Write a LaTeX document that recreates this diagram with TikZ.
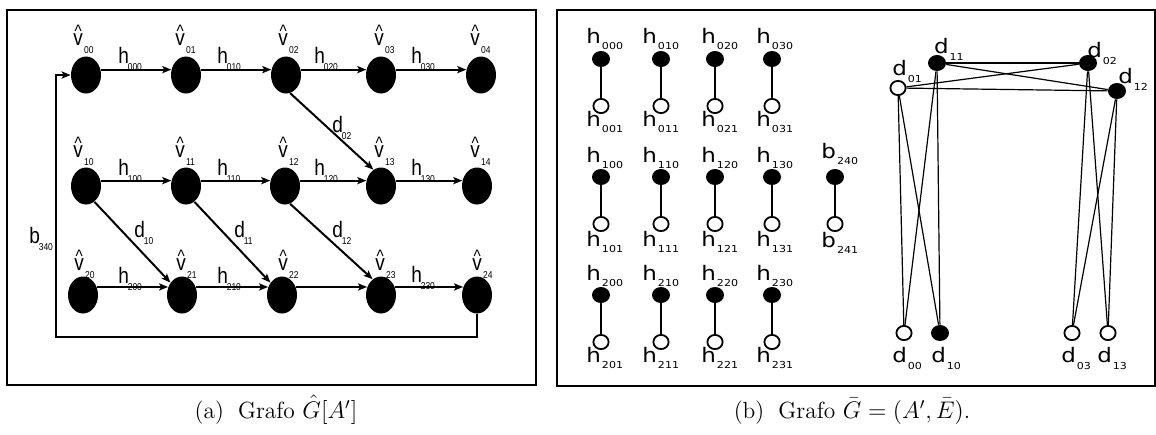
\documentclass[tikz,border=0pt]{standalone}
\usepackage{fontspec}
\usetikzlibrary{shapes.geometric,arrows.meta}
\newfontfamily\lsf[FakeStretch=0.85]{Liberation Sans}
\newfontfamily\dsf[FakeStretch=1.15]{DejaVu Sans}
\newcommand\Lb[2]{{\lsf\fontsize{11.2}{12}\selectfont #1\kern-0.6pt\raisebox{-3.5pt}{\fontsize{5}{5}\selectfont #2}}}
\newcommand\Lv[1]{{\lsf\fontsize{11.2}{12}\selectfont\rlap{\kern0.6pt\raisebox{4pt}{\fontsize{9}{9}\selectfont\textasciicircum}}v\kern0.6pt\raisebox{-4pt}{\fontsize{5}{5}\selectfont #1}}}
\newcommand\Rb[2]{{\dsf\fontsize{10}{12}\selectfont #1\kern0.5pt\raisebox{-3.2pt}{\fontsize{4.8}{5}\selectfont #2}}}
\newcommand\Rd[2]{{\dsf\fontsize{10}{12}\selectfont #1\kern0.4pt\raisebox{-3.5pt}{\fontsize{4.8}{5}\selectfont #2}}}
\tikzset{
 vnode/.style={ellipse, fill=black, minimum width=15pt, minimum height=18.5pt, inner sep=0pt},
 harr/.style={line width=1pt, -{Stealth[length=4.5pt,width=3.6pt,inset=1pt]}},
 lab/.style={inner sep=0pt, anchor=base west},
 fnode/.style={ellipse, fill=black, minimum width=9pt, minimum height=8pt, inner sep=0pt},
 onode/.style={ellipse, draw=black, fill=white, line width=0.9pt, minimum width=7.6pt, minimum height=7.1pt, inner sep=0pt},
 hline/.style={line width=0.8pt},
 dedge/.style={line width=0.6pt},
 frame/.style={line width=1.3pt},
 capt/.style={inner sep=0pt, anchor=base, font=\fontsize{11.7}{13}\selectfont},
}
\begin{document}
\begin{tikzpicture}[x=0.5pt,y=-0.5pt]
\useasboundingbox (0,0) rectangle (1156,434);
% frames
\draw[frame] (7,10) rectangle (536,385);
\draw[frame] (557,10) rectangle (1155,386);
% ---------- left graph ----------
\node[vnode] (v00) at (86,75) {};
\node[vnode] (v01) at (186,75) {};
\node[vnode] (v02) at (286,75) {};
\node[vnode] (v03) at (381,75) {};
\node[vnode] (v04) at (481,75) {};
\node[vnode] (v10) at (86,186) {};
\node[vnode] (v11) at (186,186) {};
\node[vnode] (v12) at (285,186) {};
\node[vnode] (v13) at (381,186) {};
\node[vnode] (v14) at (477,186) {};
\node[vnode] (v20) at (83,295) {};
\node[vnode] (v21) at (182,295) {};
\node[vnode] (v22) at (282,295) {};
\node[vnode] (v23) at (381,295) {};
\node[vnode] (v24) at (477,295) {};
% horizontal arrows
\draw[harr] (v00.20) -- (v01.160);
\draw[harr] (v01.20) -- (v02.160);
\draw[harr] (v02.20) -- (v03.160);
\draw[harr] (v03.20) -- (v04.160);
\draw[harr] (v10.20) -- (v11.160);
\draw[harr] (v11.20) -- (v12.160);
\draw[harr] (v12.20) -- (v13.160);
\draw[harr] (v13.20) -- (v14.160);
\draw[harr] (v20.30) -- (v21.150);
\draw[harr] (v21.30) -- (v22.150);
\draw[harr] (v22.30) -- (v23.150);
\draw[harr] (v23.30) -- (v24.150);
% diagonal arrows
\draw[harr] (v02.-77) -- (v13.115);
\draw[harr] (v10.-62) -- (v21.133);
\draw[harr] (v11.-62) -- (v22.133);
\draw[harr] (v12.-74) -- (v23.118);
% loop
\coordinate (lc) at (56,337);
\draw[harr] (v24.south) |- (lc) |- (v00.west);
% vertex labels
\node[lab] (lv00) at (73,45) {\Lv{00}};
\node[lab] (lv01) at (175,45) {\Lv{01}};
\node[lab] (lv02) at (278,45) {\Lv{02}};
\node[lab] (lv03) at (374,45) {\Lv{03}};
\node[lab] (lv04) at (470,45) {\Lv{04}};
\node[lab] (lv10) at (73,157) {\Lv{10}};
\node[lab] (lv11) at (175,157) {\Lv{11}};
\node[lab] (lv12) at (278,157) {\Lv{12}};
\node[lab] (lv13) at (374,157) {\Lv{13}};
\node[lab] (lv14) at (470,157) {\Lv{14}};
\node[lab] (lv20) at (74,270) {\Lv{20}};
\node[lab] (lv21) at (176,270) {\Lv{21}};
\node[lab] (lv22) at (278,270) {\Lv{22}};
\node[lab] (lv23) at (375,270) {\Lv{23}};
\node[lab] (lv24) at (472,270) {\Lv{24}};
% edge labels
\node[lab] (lh000) at (118,63) {\Lb{h}{000}};
\node[lab] (lh010) at (217,63) {\Lb{h}{010}};
\node[lab] (lh020) at (314,63) {\Lb{h}{020}};
\node[lab] (lh030) at (411,63) {\Lb{h}{030}};
\node[lab] (lh100) at (118,175) {\Lb{h}{100}};
\node[lab] (lh110) at (217,175) {\Lb{h}{110}};
\node[lab] (lh120) at (314,175) {\Lb{h}{120}};
\node[lab] (lh130) at (411,175) {\Lb{h}{130}};
\node[lab] (lh200) at (118,283) {\Lb{h}{200}};
\node[lab] (lh210) at (217,283) {\Lb{h}{210}};
\node[lab] (lh230) at (411,282) {\Lb{h}{230}};
\node[lab] (ld02) at (332,132) {\Lb{d}{02}};
\node[lab] (ld10) at (134,237) {\Lb{d}{10}};
\node[lab] (ld11) at (234,237) {\Lb{d}{11}};
\node[lab] (ld12) at (332,237) {\Lb{d}{12}};
\node[lab] (lb340) at (29,243) {\Lb{b}{340}};
% ---------- right graph ----------
\foreach \c/\x/\lx in {0/601/586, 1/661/642, 2/715/701, 3/772/756}{
 \foreach \r/\yf/\yo/\ua/\ub in {0/59/106/43/126, 1/177/224/162/246, 2/295/342/280/362}{
  \node[lab] (rh\r\c0) at (\lx,\ua) {\Rb{h}{\r\c0}};
  \node[lab] (rh\r\c1) at (\lx,\ub) {\Rb{h}{\r\c1}};
  \node[fnode] (h\r\c0) at (\x,\yf) {};
  \node[onode] (h\r\c1) at (\x,\yo) {};
  \draw[hline] (h\r\c0) -- (h\r\c1);
 }
}
\node[lab] (rb240) at (821,158) {\Rb{b}{240}};
\node[lab] (rb241) at (821,247) {\Rb{b}{241}};
\node[fnode] (b240) at (835,177) {};
\node[onode] (b241) at (835,224) {};
\draw[hline] (b240) -- (b241);
% d nodes
\node[fnode] (d11) at (937,63) {};
\node[fnode] (d02) at (1088,63) {};
\node[onode] (d01) at (898,88) {};
\node[fnode] (d12) at (1117,91) {};
\node[onode] (d00) at (904,333) {};
\node[fnode] (d10) at (940,333) {};
\node[onode] (d03) at (1072,333) {};
\node[onode] (d13) at (1108,333) {};
\draw[dedge] (d11) -- (d02);
\draw[dedge] (d11) -- (d12);
\draw[dedge] (d01) -- (d02);
\draw[dedge] (d01) -- (d12);
\draw[dedge] (d01) -- (d00);
\draw[dedge] (d01) -- (d10);
\draw[dedge] (d11) -- (d00);
\draw[dedge] (d11) -- (d10);
\draw[dedge] (d02) -- (d03);
\draw[dedge] (d02) -- (d13);
\draw[dedge] (d12) -- (d03);
\draw[dedge] (d12) -- (d13);
\node[lab] (ld11r) at (933.7,53) {\Rd{d}{11}};
\node[lab] (ld02r) at (1087,57) {\Rd{d}{02}};
\node[lab] (ld01r) at (892,75) {\Rd{d}{01}};
\node[lab] (ld12r) at (1118,83) {\Rd{d}{12}};
\node[lab] (ld00r) at (892,362) {\Rd{d}{00}};
\node[lab] (ld10r) at (931,362) {\Rd{d}{10}};
\node[lab] (ld03r) at (1061,362) {\Rd{d}{03}};
\node[lab] (ld13r) at (1097,362) {\Rd{d}{13}};
% captions
\node[capt] (capa) at (276,418) {(a)\hspace{0.6em}Grafo $\hat{G}[A']$};
\node[capt] (capb) at (852,418) {(b)\hspace{0.6em}Grafo $\bar{G}=(A',\bar{E})$.};
\end{tikzpicture}
\end{document}
